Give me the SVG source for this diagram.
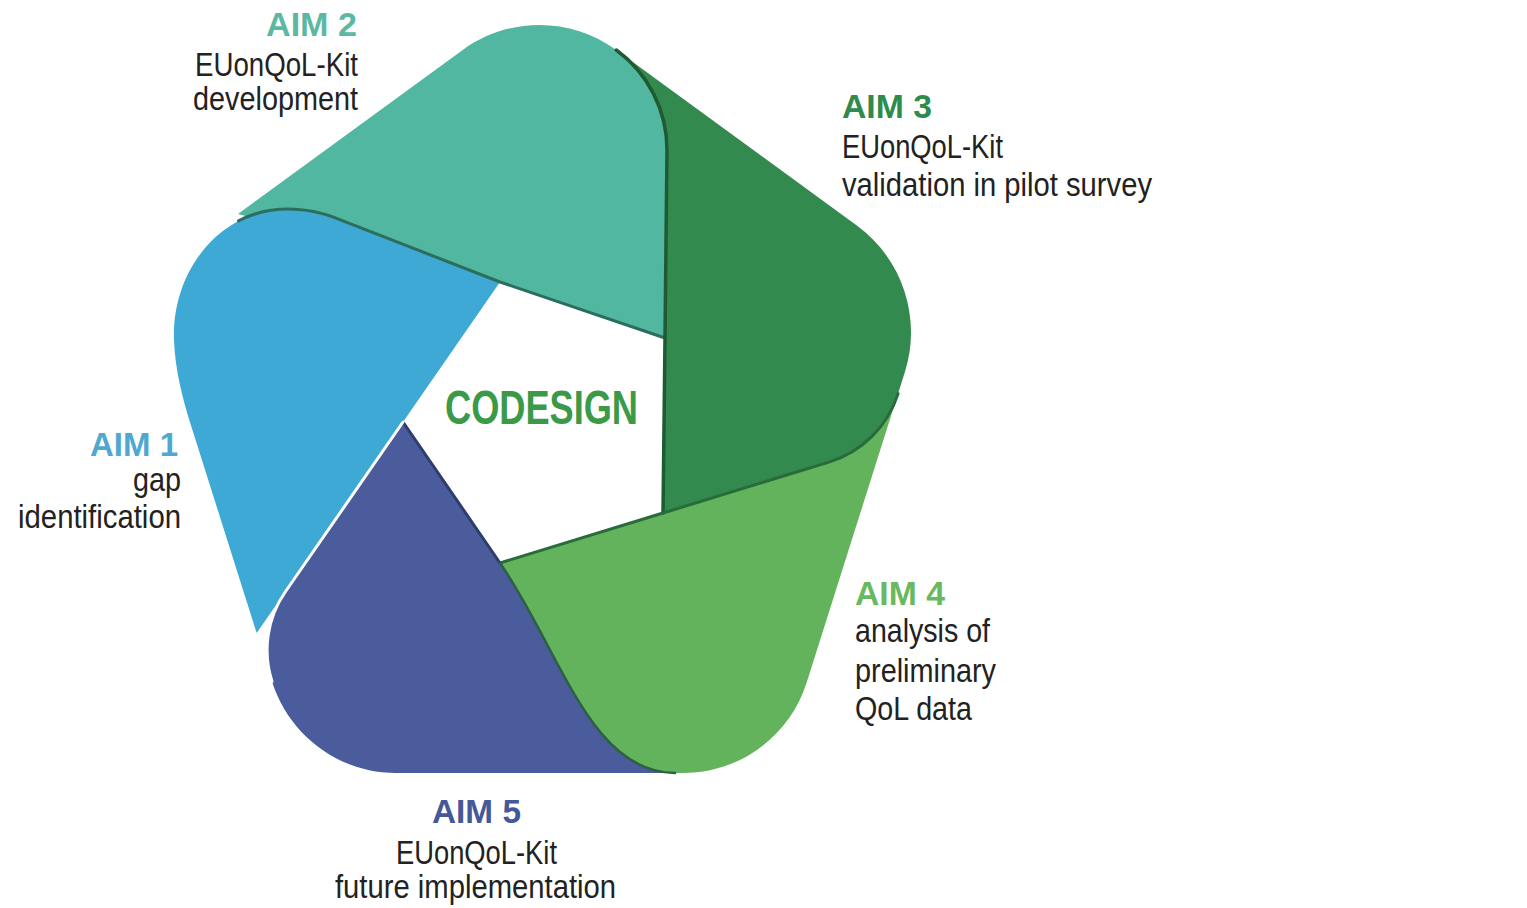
<svg xmlns="http://www.w3.org/2000/svg" width="1527" height="908" viewBox="0 0 1527 908">
<style>
.aim{font-family:"Liberation Sans",Arial,sans-serif;font-weight:bold;font-size:33px}
.txt{font-family:"Liberation Sans",Arial,sans-serif;font-size:33px;fill:#222}
.edge{fill:none;stroke-linejoin:round;stroke-linecap:round}
</style>
<rect width="1527" height="908" fill="#fff"/>
<g id="node-aim2">
<path fill="#52b7a0" d="M500,282 L665,338 L667,150 C667,110.4 648.2,73.3 616.3,50 C570.5,16.6 508.5,16.6 462.7,50 L238,214 Z"/>
<text class="aim" fill="#5cb8a3" x="266" y="36" textLength="91" lengthAdjust="spacingAndGlyphs">AIM 2</text>
<text class="txt" x="195" y="76" textLength="163" lengthAdjust="spacingAndGlyphs">EUonQoL-Kit</text>
<text class="txt" x="193" y="110" textLength="165" lengthAdjust="spacingAndGlyphs">development</text>
</g>
<g id="node-aim1">
<path fill="#3ea9d5" d="M500,282 L333.4,217.2 C310,208 280,206 255,214 C207.4,229.2 172,280 174,340 C175,370 183.2,400.7 190.7,424.5 L256.7,633.1 Z"/>
<text class="aim" fill="#4fa8d0" x="90" y="456" textLength="88" lengthAdjust="spacingAndGlyphs">AIM 1</text>
<text class="txt" x="133" y="491" textLength="48" lengthAdjust="spacingAndGlyphs">gap</text>
<text class="txt" x="18" y="528" textLength="163" lengthAdjust="spacingAndGlyphs">identification</text>
</g>
<g id="node-aim5">
<path fill="#4a5c9b" d="M403,422 L500,563 L680,773 L396,773 C339.4,773 289.3,736 272,681.5 C262.3,651 267.2,617.9 285.2,592 Z"/>
<text class="aim" fill="#45599a" x="432" y="823" textLength="89" lengthAdjust="spacingAndGlyphs">AIM 5</text>
<text class="txt" x="396" y="864" textLength="161" lengthAdjust="spacingAndGlyphs">EUonQoL-Kit</text>
<text class="txt" x="335" y="898" textLength="281" lengthAdjust="spacingAndGlyphs">future implementation</text>
</g>
<g id="node-aim4">
<path fill="#62b35c" d="M500,563 L663,513 L898.1,393.6 L806.7,682.4 C789.6,736.4 739.6,773 683,773 L675,773 C590,773 560,650 500,563 Z"/>
<text class="aim" fill="#6ab85f" x="855" y="605" textLength="90" lengthAdjust="spacingAndGlyphs">AIM 4</text>
<text class="txt" x="855" y="642" textLength="135" lengthAdjust="spacingAndGlyphs">analysis of</text>
<text class="txt" x="855" y="682" textLength="141" lengthAdjust="spacingAndGlyphs">preliminary</text>
<text class="txt" x="855" y="720" textLength="117" lengthAdjust="spacingAndGlyphs">QoL data</text>
</g>
<g id="node-aim3">
<path fill="#338a4f" d="M665,338 L663,513 L828.9,462.1 C861.8,452 887.7,426.4 898.1,393.6 L904.9,372.1 C922,318.1 902.6,258.9 856.8,225.5 L616.3,50 C648.2,73.3 667,110.4 667,150 Z"/>
<text class="aim" fill="#2e8b4b" x="842" y="118" textLength="90" lengthAdjust="spacingAndGlyphs">AIM 3</text>
<text class="txt" x="842" y="158" textLength="161" lengthAdjust="spacingAndGlyphs">EUonQoL-Kit</text>
<text class="txt" x="842" y="196" textLength="310" lengthAdjust="spacingAndGlyphs">validation in pilot survey</text>
</g>
<g id="edges">
<path class="edge" stroke="#2b6e5d" stroke-width="3" d="M665,338 L500,282 L333.4,217.2 C310,208 280,206 255,214 C249.3,215.8 243.8,218.1 238.5,220.9"/>
<path class="edge" stroke="#1e5a32" stroke-width="3.5" d="M663,513 L665,338 L667,150 C667,110.4 648.2,73.3 616.3,50"/>
<path class="edge" stroke="#2a6b3c" stroke-width="3" d="M500,563 L663,513 L828.9,462.1 C861.8,452 887.7,426.4 898.1,393.6"/>
<path class="edge" stroke="#2c3d6e" stroke-width="3" d="M403,422 L500,563"/>
<path class="edge" stroke="#2f5f45" stroke-width="2.5" d="M500,563 C560,650 590,773 675,773"/>
<path class="edge" stroke="#ffffff" stroke-width="3" d="M403,422 L285.2,592 C267.2,617.9 262.3,651 272,681.5"/>
</g>
<g id="node-center">
<text class="aim" fill="#3a9a48" x="445" y="424" textLength="193" lengthAdjust="spacingAndGlyphs" style="font-size:48px">CODESIGN</text>
</g>
</svg>
